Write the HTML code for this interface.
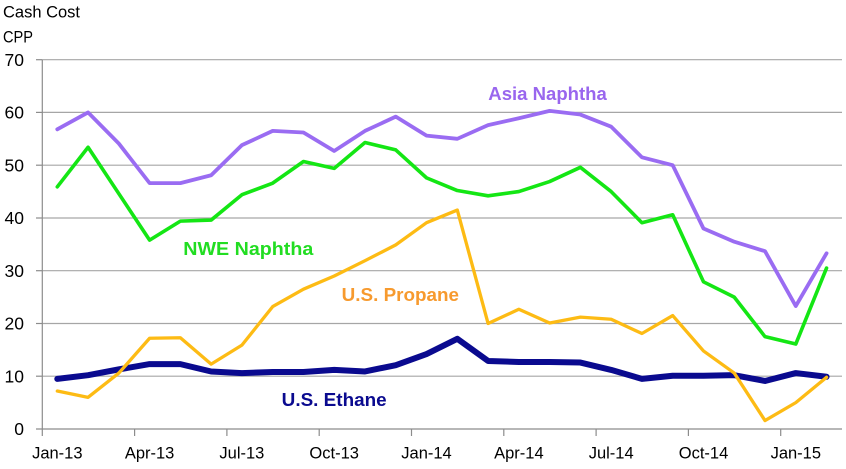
<!DOCTYPE html>
<html>
<head>
<meta charset="utf-8">
<style>
  html, body { margin: 0; padding: 0; background: #ffffff; }
  body { width: 846px; height: 469px; overflow: hidden; }
  svg { display: block; }
  text { font-family: "Liberation Sans", sans-serif; }
</style>
</head>
<body>
<svg width="846" height="469" viewBox="0 0 846 469" xmlns="http://www.w3.org/2000/svg">
  <rect width="846" height="469" fill="#ffffff"/>

  <!-- Title -->
  <text x="3" y="17.5" font-size="16.5" fill="#000" textLength="77" lengthAdjust="spacingAndGlyphs">Cash Cost</text>
  <text x="3" y="42.7" font-size="16.5" fill="#000" textLength="30" lengthAdjust="spacingAndGlyphs">CPP</text>

  <!-- Gridlines -->
  <g stroke="#a6a6a6" stroke-width="1.2">
    <line x1="42.3" y1="59.7" x2="842" y2="59.7"/>
    <line x1="42.3" y1="112.4" x2="842" y2="112.4"/>
    <line x1="42.3" y1="165.2" x2="842" y2="165.2"/>
    <line x1="42.3" y1="218" x2="842" y2="218"/>
    <line x1="42.3" y1="270.7" x2="842" y2="270.7"/>
    <line x1="42.3" y1="323.5" x2="842" y2="323.5"/>
    <line x1="42.3" y1="376.2" x2="842" y2="376.2"/>
  </g>

  <!-- Axes -->
  <g stroke="#8c8c8c" stroke-width="1.2">
    <line x1="42.3" y1="59.7" x2="42.3" y2="436"/>
    <line x1="36" y1="429" x2="842" y2="429"/>
    <line x1="36" y1="59.7" x2="42.3" y2="59.7"/>
    <line x1="36" y1="112.4" x2="42.3" y2="112.4"/>
    <line x1="36" y1="165.2" x2="42.3" y2="165.2"/>
    <line x1="36" y1="218" x2="42.3" y2="218"/>
    <line x1="36" y1="270.7" x2="42.3" y2="270.7"/>
    <line x1="36" y1="323.5" x2="42.3" y2="323.5"/>
    <line x1="36" y1="376.2" x2="42.3" y2="376.2"/>
    <line x1="134.6" y1="429" x2="134.6" y2="436"/>
    <line x1="226.9" y1="429" x2="226.9" y2="436"/>
    <line x1="319.2" y1="429" x2="319.2" y2="436"/>
    <line x1="411.5" y1="429" x2="411.5" y2="436"/>
    <line x1="503.8" y1="429" x2="503.8" y2="436"/>
    <line x1="596.1" y1="429" x2="596.1" y2="436"/>
    <line x1="688.4" y1="429" x2="688.4" y2="436"/>
    <line x1="780.7" y1="429" x2="780.7" y2="436"/>
  </g>

  <!-- Y labels -->
  <g font-size="17.5" fill="#000" text-anchor="end">
    <text x="24" y="65.9">70</text>
    <text x="24" y="118.6">60</text>
    <text x="24" y="171.4">50</text>
    <text x="24" y="224.2">40</text>
    <text x="24" y="276.9">30</text>
    <text x="24" y="329.7">20</text>
    <text x="24" y="382.4">10</text>
    <text x="24" y="435.2">0</text>
  </g>

  <!-- X labels -->
  <g font-size="16.5" fill="#000" text-anchor="middle">
    <text x="57.3" y="458.5">Jan-13</text>
    <text x="149.6" y="458.5">Apr-13</text>
    <text x="241.9" y="458.5">Jul-13</text>
    <text x="334.2" y="458.5">Oct-13</text>
    <text x="426.5" y="458.5">Jan-14</text>
    <text x="518.9" y="458.5">Apr-14</text>
    <text x="611.2" y="458.5">Jul-14</text>
    <text x="703.5" y="458.5">Oct-14</text>
    <text x="795.8" y="458.5">Jan-15</text>
  </g>

  <!-- Series -->
  <g transform="translate(57.3,429) scale(30.77,-5.276)" fill="none" stroke-linejoin="round" stroke-linecap="round">
    <!-- U.S. Ethane -->
    <polyline vector-effect="non-scaling-stroke" stroke="#0a0a8f" stroke-width="6"
      points="0,9.5 1,10.2 2,11.3 3,12.3 4,12.3 5,10.9 6,10.6 7,10.8 8,10.8 9,11.2 10,10.9 11,12.1 12,14.2 13,17.1 14,12.9 15,12.7 16,12.7 17,12.6 18,11.2 19,9.5 20,10.1 21,10.1 22,10.2 23,9.1 24,10.6 25,9.9"/>
    <!-- U.S. Propane -->
    <polyline vector-effect="non-scaling-stroke" stroke="#fdbb14" stroke-width="3.3"
      points="0,7.2 1,6.0 2,10.6 3,17.2 4,17.3 5,12.3 6,15.9 7,23.2 8,26.5 9,29.0 10,31.9 11,34.9 12,39.1 13,41.5 14,20.0 15,22.7 16,20.1 17,21.2 18,20.8 19,18.1 20,21.5 21,14.8 22,10.6 23,1.6 24,5.0 25,9.8"/>
    <!-- NWE Naphtha -->
    <polyline vector-effect="non-scaling-stroke" stroke="#14e614" stroke-width="3.6"
      points="0,45.9 1,53.4 2,44.6 3,35.8 4,39.4 5,39.6 6,44.4 7,46.6 8,50.7 9,49.4 10,54.3 11,52.9 12,47.6 13,45.2 14,44.2 15,45.0 16,46.9 17,49.6 18,45.0 19,39.1 20,40.6 21,27.9 22,25.0 23,17.5 24,16.1 25,30.5"/>
    <!-- Asia Naphtha -->
    <polyline vector-effect="non-scaling-stroke" stroke="#9a6cf2" stroke-width="3.8"
      points="0,56.8 1,60.0 2,54.1 3,46.6 4,46.6 5,48.1 6,53.8 7,56.5 8,56.2 9,52.7 10,56.5 11,59.2 12,55.6 13,55.0 14,57.6 15,58.9 16,60.3 17,59.6 18,57.3 19,51.5 20,50.0 21,38.0 22,35.5 23,33.7 24,23.3 25,33.3"/>
  </g>

  <!-- Series labels -->
  <g font-weight="bold" font-size="18.5">
    <text x="488.3" y="100" fill="#9966ee" textLength="118.5" lengthAdjust="spacingAndGlyphs">Asia Naphtha</text>
    <text x="183.3" y="255" fill="#22dd22" textLength="130" lengthAdjust="spacingAndGlyphs">NWE Naphtha</text>
    <text x="341.7" y="301" fill="#f79a2e" textLength="117.3" lengthAdjust="spacingAndGlyphs">U.S. Propane</text>
    <text x="281.7" y="406" fill="#0a0a8f" textLength="105" lengthAdjust="spacingAndGlyphs">U.S. Ethane</text>
  </g>
</svg>
</body>
</html>
